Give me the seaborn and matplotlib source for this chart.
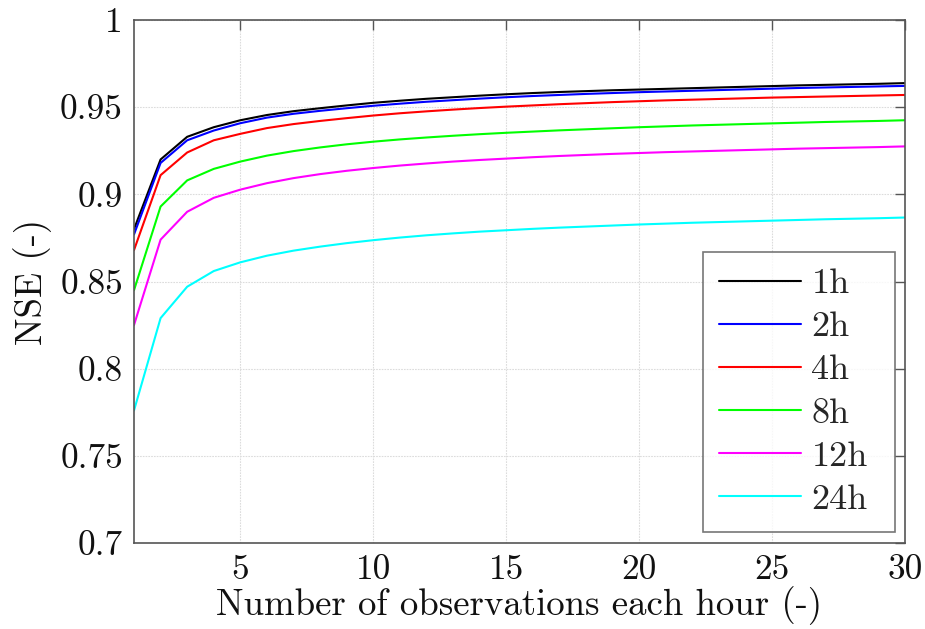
import matplotlib
matplotlib.use("Agg")
import matplotlib.pyplot as plt
import seaborn as sns
import pandas as pd
import numpy as np

obs = list(range(1, 31))

nse_1h = [0.880, 0.920, 0.933, 0.9385, 0.9425, 0.9455, 0.9477, 0.9494, 0.9510, 0.9525,
          0.9537, 0.9548, 0.9557, 0.9566, 0.9574, 0.9581, 0.9587, 0.9592, 0.9597, 0.9601,
          0.9605, 0.9609, 0.9613, 0.9617, 0.9621, 0.9625, 0.9628, 0.9631, 0.9634, 0.9638]
nse_2h = [0.877, 0.918, 0.931, 0.9366, 0.9408, 0.9440, 0.9462, 0.9479, 0.9494, 0.9508,
          0.9520, 0.9531, 0.9540, 0.9549, 0.9557, 0.9564, 0.9570, 0.9576, 0.9581, 0.9586,
          0.9590, 0.9594, 0.9598, 0.9602, 0.9606, 0.9610, 0.9613, 0.9616, 0.9619, 0.9622]
nse_4h = [0.868, 0.911, 0.924, 0.931, 0.9347, 0.9380, 0.9403, 0.9421, 0.9437, 0.9452,
          0.9465, 0.9476, 0.9486, 0.9495, 0.9503, 0.9510, 0.9517, 0.9523, 0.9529, 0.9534,
          0.9539, 0.9543, 0.9547, 0.9551, 0.9555, 0.9558, 0.9561, 0.9564, 0.9567, 0.9570]
nse_8h = [0.845, 0.893, 0.908, 0.9146, 0.9188, 0.9222, 0.9248, 0.9269, 0.9287, 0.9302,
          0.9315, 0.9326, 0.9336, 0.9345, 0.9353, 0.9360, 0.9367, 0.9373, 0.9379, 0.9385,
          0.9390, 0.9395, 0.9399, 0.9403, 0.9407, 0.9411, 0.9415, 0.9418, 0.9421, 0.9425]
nse_12h = [0.825, 0.874, 0.890, 0.898, 0.9027, 0.9064, 0.9093, 0.9116, 0.9135, 0.9151,
           0.9165, 0.9177, 0.9188, 0.9197, 0.9205, 0.9213, 0.9220, 0.9226, 0.9232, 0.9237,
           0.9242, 0.9246, 0.9250, 0.9254, 0.9258, 0.9262, 0.9265, 0.9268, 0.9271, 0.9275]
nse_24h = [0.776, 0.829, 0.847, 0.856, 0.861, 0.8648, 0.8677, 0.8700, 0.8720, 0.8737,
           0.8752, 0.8765, 0.8776, 0.8786, 0.8794, 0.8802, 0.8809, 0.8815, 0.8821, 0.8827,
           0.8832, 0.8837, 0.8841, 0.8845, 0.8849, 0.8853, 0.8857, 0.8860, 0.8863, 0.8867]

series_labels = ["1h", "2h", "4h", "8h", "12h", "24h"]
series_values = [nse_1h, nse_2h, nse_4h, nse_8h, nse_12h, nse_24h]
series_colors = ["#000000", "#0000ff", "#ff0000", "#00ff00", "#ff00ff", "#00ffff"]

x_ticks = [5, 10, 15, 20, 25, 30]
y_ticks = [0.7, 0.75, 0.8, 0.85, 0.9, 0.95, 1.0]
y_tick_labels = ["0.7", "0.75", "0.8", "0.85", "0.9", "0.95", "1"]

df = pd.DataFrame({
    "obs": obs * len(series_labels),
    "nse": [v for vals in series_values for v in vals],
    "series": [lab for lab in series_labels for _ in obs],
})

sns.set_style("white")
plt.rcParams["font.family"] = ["cmr10", "DejaVu Serif"]
plt.rcParams["axes.formatter.use_mathtext"] = True
plt.rcParams["mathtext.fontset"] = "cm"

fig = plt.figure(figsize=(9.25, 6.29), dpi=100)
ax = fig.add_axes([134 / 925, 1 - 543 / 629, (905 - 134) / 925, (543 - 20) / 629])

sns.lineplot(data=df, x="obs", y="nse", hue="series", hue_order=series_labels,
             palette=dict(zip(series_labels, series_colors)), linewidth=1.5, ax=ax)

ax.set_xlim(1, 30)
ax.set_ylim(0.7, 1.0)
ax.set_xticks(x_ticks)
ax.set_xticklabels([str(t) for t in x_ticks])
ax.set_yticks(y_ticks)
ax.set_yticklabels(y_tick_labels)
ax.grid(True, color="#dcdcdc", linewidth=0.8, linestyle=(0, (1.5, 1)))
ax.set_axisbelow(True)
for sp in ax.spines.values():
    sp.set_visible(True)
    sp.set_color("#555555")
    sp.set_linewidth(1.2)
ax.tick_params(axis="both", which="both", direction="in", length=7, width=1.0,
               color="#555555", top=True, right=True, labelsize=25.5, pad=8,
               labelcolor="#111111")
ax.set_xlabel("Number of observations each hour (-)", fontsize=26.5, labelpad=0, color="#111111")
ax.set_ylabel("NSE (-)", fontsize=26.5, labelpad=6, color="#111111")

leg = ax.legend(loc="lower left", fontsize=26, frameon=True, fancybox=False,
                edgecolor="#555555", handlelength=2.25, handletextpad=0.3,
                labelspacing=0.3, borderpad=0.45, borderaxespad=0,
                mode="expand",
                bbox_to_anchor=((703 - 134) / 771, 11 / 523, (895 - 703) / 771, 0.5))
leg.get_frame().set_linewidth(1.2)
for line in leg.get_lines():
    line.set_linewidth(1.5)

fig.savefig("out.png", dpi=100)
